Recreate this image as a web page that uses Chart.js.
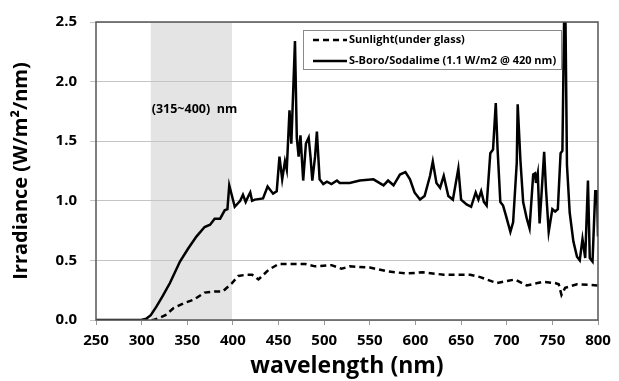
<!DOCTYPE html>
<html>
<head>
<meta charset="utf-8">
<script src="https://cdn.jsdelivr.net/npm/chart.js@4"></script>
<style>
  html, body { margin: 0; padding: 0; background: #fff; }
  #wrap { width: 619px; height: 381px; }
</style>
</head>
<body>
<div id="wrap"><canvas id="spectrum-chart" width="619" height="381"></canvas></div>
<script>
// wavelength (nm) / irradiance (W/m2/nm)
let boroWl = [250, 300, 305, 310, 316, 323, 331, 342, 351, 360, 369, 375, 380, 386, 391, 394, 396, 399,
  402, 408, 411, 414, 417, 419, 421, 424, 433, 438, 444, 448, 451, 454, 457, 459, 462, 464, 468, 470,
  472, 474, 477, 480, 483, 485, 487, 490, 492, 495, 499, 503, 508, 514, 517, 528, 539, 554, 565, 570,
  576, 583, 589, 594, 599, 605, 610, 616, 619, 623, 627, 631, 636, 641, 647, 650, 656, 661, 666, 669,
  672, 675, 678, 682, 685, 688, 690, 693, 696, 699, 704, 707, 711, 712, 715, 718, 722, 725, 729, 731,
  732, 734, 736, 738, 741, 743, 746, 750, 753, 756, 759, 761, 763, 764, 766, 769, 773, 777, 780, 783,
  786, 789, 791, 794, 797, 799, 800];
let boroVal = [0, 0, 0.01, 0.04, 0.11, 0.20, 0.31, 0.49, 0.60, 0.70, 0.78, 0.80, 0.85, 0.85, 0.92, 0.93, 1.13, 1.04,
  0.95, 1.00, 1.05, 0.99, 1.04, 1.07, 1.00, 1.01, 1.02, 1.12, 1.06, 1.08, 1.37, 1.18, 1.33, 1.26, 1.76, 1.48, 2.34, 1.53,
  1.37, 1.55, 1.17, 1.48, 1.53, 1.37, 1.17, 1.37, 1.58, 1.18, 1.14, 1.16, 1.14, 1.17, 1.15, 1.15, 1.17, 1.18, 1.13, 1.17,
  1.13, 1.22, 1.24, 1.18, 1.07, 1.01, 1.04, 1.21, 1.33, 1.15, 1.11, 1.21, 1.04, 1.01, 1.27, 1.01, 0.97, 0.95, 1.07, 1.01,
  1.08, 0.99, 0.96, 1.40, 1.43, 1.82, 1.43, 0.99, 0.96, 0.88, 0.74, 0.82, 1.32, 1.81, 1.34, 0.99, 0.85, 0.77, 1.22, 1.23,
  1.15, 1.23, 0.81, 1.04, 1.41, 1.10, 0.74, 0.93, 0.91, 0.93, 1.40, 1.42, 2.60, 2.80, 1.30, 0.90, 0.66, 0.53, 0.50, 0.68,
  0.52, 1.17, 0.52, 0.49, 1.08, 1.08, 0.70];

let sunWl = [300, 313, 320, 326, 335, 346, 357, 369, 380, 389, 399, 406, 415, 421, 428, 439, 450, 466, 479, 490,
  508, 519, 528, 550, 568, 590, 608, 631, 660, 671, 689, 709, 722, 740, 753, 757, 760, 764, 777, 800];
let sunVal = [0, 0, 0.02, 0.04, 0.10, 0.14, 0.17, 0.23, 0.24, 0.24, 0.31, 0.37, 0.38, 0.38, 0.34, 0.42, 0.47, 0.47, 0.47, 0.45,
  0.46, 0.43, 0.45, 0.44, 0.41, 0.39, 0.40, 0.38, 0.38, 0.36, 0.31, 0.34, 0.29, 0.32, 0.31, 0.30, 0.21, 0.27, 0.30, 0.29];

let seriesNames = ['Sunlight(under glass)', 'S-Boro/Sodalime (1.1 W/m2 @ 420 nm)'];
let uvBand = [310, 399];
let bandLabel = '(315~400)  nm';

let fontFam = '"Open Sans", "DejaVu Sans", sans-serif';

function pts(xs, ys) {
  return xs.map((x, i) => ({ x: x, y: ys[i] }));
}

// grey UVA band, drawn under the grid
let bandPlugin = {
  id: 'band',
  beforeDraw(chart) {
    let { ctx, chartArea, scales } = chart;
    let x0 = scales.x.getPixelForValue(uvBand[0]);
    let x1 = scales.x.getPixelForValue(uvBand[1]);
    ctx.save();
    ctx.fillStyle = '#e4e4e4';
    ctx.fillRect(x0, chartArea.top, x1 - x0, chartArea.bottom - chartArea.top);
    ctx.restore();
  }
};

// frame, band label and boxed legend
let extrasPlugin = {
  id: 'extras',
  afterDraw(chart) {
    let { ctx, chartArea, scales } = chart;
    ctx.save();
    ctx.strokeStyle = '#555';
    ctx.lineWidth = 1.5;
    ctx.strokeRect(chartArea.left, chartArea.top, chartArea.right - chartArea.left, chartArea.bottom - chartArea.top);

    ctx.fillStyle = '#000';
    ctx.font = 'bold 12.5px ' + fontFam;
    ctx.textBaseline = 'middle';
    ctx.textAlign = 'left';
    ctx.fillText(bandLabel, scales.x.getPixelForValue(311), scales.y.getPixelForValue(1.77));

    // legend box
    let bx = 303, by = 30, bw = 258, bh = 39;
    ctx.fillStyle = '#fff';
    ctx.fillRect(bx, by, bw, bh);
    ctx.strokeStyle = '#8a8a8a';
    ctx.lineWidth = 1;
    ctx.strokeRect(bx + 0.5, by + 0.5, bw, bh);
    ctx.font = 'bold 11px ' + fontFam;
    chart.data.datasets.forEach((ds, i) => {
      let ly = i === 0 ? 40 : 61;
      ctx.strokeStyle = '#000';
      ctx.lineWidth = 2.5;
      ctx.setLineDash(ds.borderDash || []);
      ctx.beginPath();
      ctx.moveTo(313, ly);
      ctx.lineTo(347, ly);
      ctx.stroke();
      ctx.setLineDash([]);
      ctx.fillStyle = '#000';
      ctx.fillText(ds.label, 349, ly);
    });
    ctx.restore();
  }
};

let spectrumChart = new Chart(document.getElementById('spectrum-chart').getContext('2d'), {
  type: 'line',
  data: {
    datasets: [
      {
        label: seriesNames[0],
        data: pts(sunWl, sunVal),
        borderColor: '#000',
        borderWidth: 2.5,
        borderDash: [6, 4],
        pointRadius: 0,
        tension: 0
      },
      {
        label: seriesNames[1],
        data: pts(boroWl, boroVal),
        borderColor: '#000',
        borderWidth: 2.5,
        pointRadius: 0,
        tension: 0
      }
    ]
  },
  options: {
    responsive: false,
    animation: false,
    layout: { padding: { top: 16, right: 21, left: 0, bottom: 0 } },
    plugins: {
      legend: { display: false },
      tooltip: { enabled: false }
    },
    scales: {
      x: {
        type: 'linear',
        min: 250,
        max: 800,
        ticks: {
          stepSize: 50,
          color: '#000',
          padding: 7,
          font: { family: fontFam, size: 15, weight: 'bold' }
        },
        grid: { drawOnChartArea: false, drawTicks: true, tickLength: 5, color: '#999' },
        border: { display: false },
        title: {
          display: true,
          text: 'wavelength (nm)',
          color: '#000',
          padding: { top: 0, bottom: 1 },
          font: { family: fontFam, size: 23, weight: 'bold', lineHeight: 1.2 }
        },
        afterFit(scale) { scale.height = 61; }
      },
      y: {
        min: 0,
        max: 2.5,
        ticks: {
          stepSize: 0.5,
          color: '#000',
          padding: 13,
          font: { family: fontFam, size: 15, weight: 'bold' },
          callback: v => v.toFixed(1)
        },
        grid: { color: '#c4c4c4', lineWidth: 1, tickLength: 6 },
        border: { display: false },
        title: {
          display: true,
          text: 'Irradiance (W/m²/nm)',
          color: '#000',
          padding: { top: 9, bottom: 0 },
          font: { family: fontFam, size: 20, weight: 'bold', lineHeight: 1.2 }
        },
        afterFit(scale) { scale.width = 96; }
      }
    }
  },
  plugins: [bandPlugin, extrasPlugin]
});
</script>
</body>
</html>
